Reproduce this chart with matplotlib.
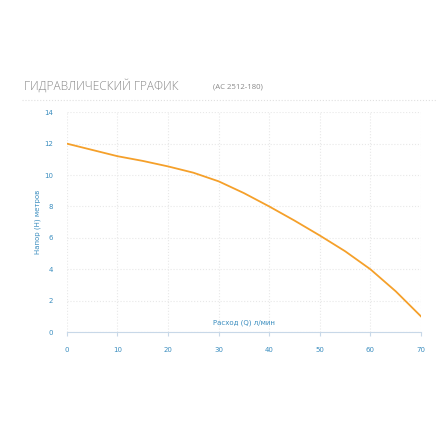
import matplotlib
matplotlib.use("Agg")
import matplotlib.pyplot as plt
from matplotlib.lines import Line2D

flow = [0, 5, 10, 15, 20, 25, 30, 35, 40, 45, 50, 55, 60, 65, 70]
head = [12, 11.6, 11.2, 10.9, 10.55, 10.15, 9.6, 8.85, 8.0, 7.1, 6.15, 5.15, 4.0, 2.6, 1.0]
xticks = [0, 10, 20, 30, 40, 50, 60, 70]
yticks = [0, 2, 4, 6, 8, 10, 12, 14]

blue = "#3a8dbf"
fig = plt.figure(figsize=(4.4, 4.4), dpi=100)
ax = fig.add_axes([0.152, 0.245, 0.805, 0.5])
ax.plot(flow, head, color="#f5a02a", lw=1.3)
ax.set_xlim(0, 70)
ax.set_ylim(0, 14)
ax.set_xticks(xticks)
ax.set_yticks(yticks)
ax.grid(True, color="#e8e8e8", ls=":", lw=0.8)
for s in ["top", "right", "left"]:
    ax.spines[s].set_visible(False)
ax.spines["bottom"].set_color("#c8d8e8")
ax.tick_params(axis="x", colors=blue, labelsize=5, length=3, color="#c8d8e8", pad=8)
ax.tick_params(axis="y", colors=blue, labelsize=5, length=0, pad=10)
ax.text(0.5, 0.03, "Расход (Q) л/мин", transform=ax.transAxes, ha="center",
        va="bottom", fontsize=5, color=blue)
fig.text(0.086, 0.495, "Напор (H) метров", rotation=90, ha="center", va="center",
         fontsize=5, color=blue)
fig.text(0.055, 0.805, "ГИДРАВЛИЧЕСКИЙ ГРАФИК", fontsize=8.6, color="#8a8a8a",
         va="center", family="Open Sans", fontweight="light")
fig.text(0.483, 0.803, "(AC 2512-180)", fontsize=5.6, color="#8a8a8a",
         va="center", family="Open Sans")
fig.add_artist(Line2D([0.05, 0.99], [0.773, 0.773], transform=fig.transFigure,
                      color="#e0e0e0", ls=":", lw=0.8))
fig.savefig("out.png", dpi=100)
